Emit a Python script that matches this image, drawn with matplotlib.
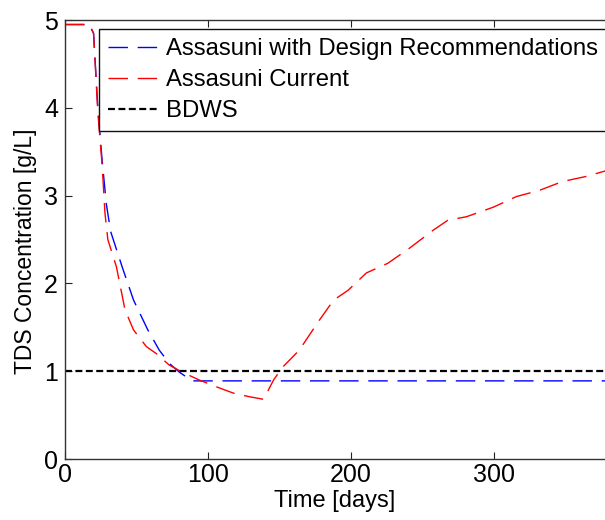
import numpy as np
import matplotlib
matplotlib.use('Agg')
from matplotlib import pyplot as plt

plt.rcParams['font.family'] = ['Liberation Sans', 'DejaVu Sans']
plt.rcParams['lines.scale_dashes'] = False

# TDS concentration over time (days, g/L)
t_current = [0, 17, 20, 23, 26, 28, 30, 36, 42, 48, 57, 64, 73, 82, 94, 108, 118, 129,
             139, 146, 152, 164, 178, 188, 198, 211, 226, 241, 258, 268, 281, 300, 316,
             332, 348, 365, 380]
tds_current = [4.95, 4.95, 4.85, 3.95, 3.35, 2.8, 2.5, 2.19, 1.70, 1.47, 1.28, 1.20, 1.07,
               0.99, 0.90, 0.81, 0.75, 0.71, 0.68, 0.90, 1.04, 1.24, 1.58, 1.81, 1.92,
               2.12, 2.23, 2.40, 2.61, 2.72, 2.76, 2.87, 2.99, 3.06, 3.16, 3.22, 3.29]

t_design = [0, 17, 20, 23, 26, 29, 32, 40, 48, 58, 66, 73, 80, 89, 380]
tds_design = [4.95, 4.95, 4.85, 4.0, 3.4, 2.9, 2.59, 2.19, 1.81, 1.47, 1.24, 1.09, 0.99,
              0.89, 0.89]

bdws_limit = 1.0

fig = plt.figure(figsize=(6.05, 5.2), dpi=100)
ax = fig.add_axes([0.1074, 0.1173, 0.8926, 0.844])

ax.plot(t_design, tds_design, color='#0000ff', lw=1.0, dashes=(14, 7),
        label='Assasuni with Design Recommendations')
ax.plot(t_current, tds_current, color='#ff0000', lw=1.0, dashes=(14, 7),
        label='Assasuni Current')
ax.axhline(bdws_limit, color='black', lw=1.6, dashes=(5, 2.5), label='BDWS')

ax.set_xlim(0, 378)
ax.set_ylim(0, 5)
ax.set_xticks([0, 100, 200, 300])
ax.set_yticks([0, 1, 2, 3, 4, 5])
ax.tick_params(direction='in', length=5, width=0.8, labelsize=18, top=True,
               colors='#222222', labelcolor='black')
ax.tick_params(axis='x', pad=3)
ax.tick_params(axis='y', pad=5)
ax.spines['right'].set_visible(False)
for s in ['left', 'bottom', 'top']:
    ax.spines[s].set_color('#333333')
    ax.spines[s].set_linewidth(1.0)

ax.set_xlabel('Time [days]', fontsize=17, labelpad=2)
ax.set_ylabel('TDS Concentration [g/L]', fontsize=16.5, labelpad=5, y=0.474)

# legend runs off the right edge of the figure
leg = ax.legend(loc='upper left', bbox_to_anchor=(0.063, 0.979), borderaxespad=0,
                fontsize=17.2, fancybox=False, framealpha=1, edgecolor='#111111',
                handlelength=2.05, handletextpad=0.36, labelspacing=0.37,
                borderpad=0.38)
leg.get_frame().set_linewidth(1.0)

plt.savefig('out.png', dpi=100)
